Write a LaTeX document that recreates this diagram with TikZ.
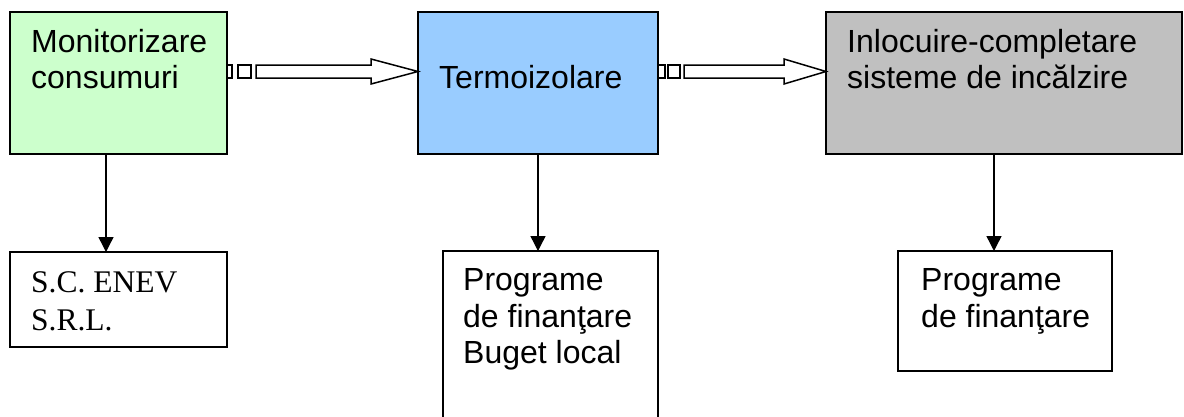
\documentclass[tikz,border=0pt]{standalone}
\usepackage{fontspec}
\setmainfont{Liberation Sans}
\newfontfamily\seriffont{Liberation Serif}
\usetikzlibrary{arrows.meta,calc}
\definecolor{boxgreen}{HTML}{CCFFCC}
\definecolor{boxblue}{HTML}{99CCFF}
\definecolor{boxgray}{HTML}{C0C0C0}
\tikzset{
  topbox/.style={draw=black, line width=1.8pt, anchor=north west, inner sep=0pt, outer sep=0pt},
  botbox/.style={draw=black, line width=1.4pt, anchor=north west, inner sep=0pt, outer sep=0pt, fill=white},
  txt/.style={anchor=base west, inner sep=0pt, font=\fontsize{32}{37}\selectfont},
  stxt/.style={anchor=base west, inner sep=0pt, font=\seriffont\fontsize{31.5}{37}\selectfont},
  down/.style={line width=1.4pt, -{Triangle[length=15pt,width=15pt]}},
  hollow/.style={draw=black, line width=1.5pt, fill=white, line join=miter}
}
\begin{document}
\begin{tikzpicture}[x=1pt,y=-1pt]
\useasboundingbox (0,0) rectangle (1184,416);
% top boxes
\node[topbox, fill=boxgreen, minimum width=217pt, minimum height=142pt] (b1) at (10,12) {};
\node[topbox, fill=boxblue, minimum width=240pt, minimum height=142pt] (b2) at (418,12) {};
\node[topbox, fill=boxgray, minimum width=356pt, minimum height=142pt] (b3) at (826,12) {};
% bottom boxes
\node[botbox, minimum width=217pt, minimum height=95pt] (c1) at (10,252) {};
\node[botbox, minimum width=215pt, minimum height=175pt] (c2) at (443,251) {};
\node[botbox, minimum width=214pt, minimum height=120pt] (c3) at (898,251) {};
% texts
\node[txt] (t1a) at (31,52) {Monitorizare};
\node[txt] (t1b) at (31,88.5) {consumuri};
\node[txt] (t2) at (439,88.5) {Termoizolare};
\node[txt] (t3a) at (847,52) {Inlocuire-completare};
\node[txt] (t3b) at (847,88.5) {sisteme de incălzire};
\node[stxt] (s1a) at (31,292) {S.C. ENEV};
\node[stxt] (s1b) at (31,330) {S.R.L.};
\node[txt] (s2a) at (463,290) {Programe};
\node[txt] (s2b) at (463,327) {de finanţare};
\node[txt] (s2c) at (463,363) {Buget local};
\node[txt] (s3a) at (921,290) {Programe};
\node[txt] (s3b) at (921,327) {de finanţare};
% vertical connectors
\coordinate (d1) at (106,0);
\coordinate (d2) at (538,0);
\coordinate (d3) at (994,0);
\draw[down] (b1.south -| d1) -- (c1.north -| d1);
\draw[down] (b2.south -| d2) -- (c2.north -| d2);
\draw[down] (b3.south -| d3) -- (c3.north -| d3);
% striped block arrows
\coordinate (h) at (0,71.5);
\coordinate (p1) at (b1.east |- h);
\coordinate (q1) at (b2.west |- h);
\draw[hollow] ($(p1)+(0,-6.5)$) rectangle ($(p1)+(5,6.5)$);
\draw[hollow] ($(p1)+(11,-6.5)$) rectangle ($(p1)+(24,6.5)$);
\draw[hollow] ($(p1)+(29,-6.5)$) -- ($(q1)+(-47,-6.5)$) -- ($(q1)+(-47,-12.5)$) -- (q1)
  -- ($(q1)+(-47,12.5)$) -- ($(q1)+(-47,6.5)$) -- ($(p1)+(29,6.5)$) -- cycle;
\coordinate (p2) at (b2.east |- h);
\coordinate (q2) at (b3.west |- h);
\draw[hollow] ($(p2)+(0,-6.5)$) rectangle ($(p2)+(7,6.5)$);
\draw[hollow] ($(p2)+(10,-6.5)$) rectangle ($(p2)+(22,6.5)$);
\draw[hollow] ($(p2)+(26,-6.5)$) -- ($(q2)+(-42,-6.5)$) -- ($(q2)+(-42,-12.5)$) -- (q2)
  -- ($(q2)+(-42,12.5)$) -- ($(q2)+(-42,6.5)$) -- ($(p2)+(26,6.5)$) -- cycle;
\end{tikzpicture}
\end{document}
